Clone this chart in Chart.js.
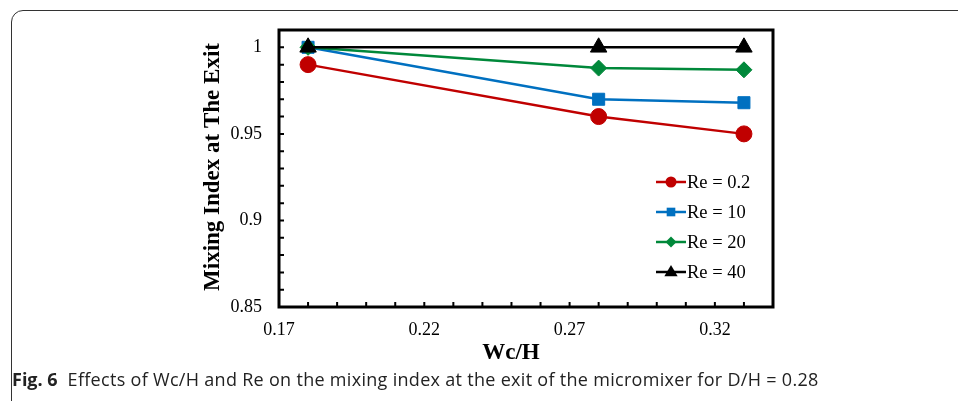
<!DOCTYPE html>
<html>
<head>
<meta charset="utf-8">
<script src="https://cdn.jsdelivr.net/npm/chart.js"></script>
<style>
  html, body { margin: 0; padding: 0; background: #fff; }
  body { width: 958px; height: 401px; overflow: hidden; position: relative; }
  .frame { position: absolute; left: 11px; top: 10px; width: 1000px; height: 440px;
           border: 1.3px solid #333; border-radius: 12px; box-sizing: border-box; }
  #wrap { position: absolute; left: 0; top: 0; width: 958px; height: 401px; }
  .cap { position: absolute; left: 12px; top: 367px; font-family: "Open Sans", sans-serif;
         font-size: 18px; letter-spacing: 0.3px; color: #222; white-space: nowrap; }
  .cap b { font-weight: 700; letter-spacing: 0; }
</style>
</head>
<body>
<div class="frame"></div>
<div id="wrap"><canvas id="mixChart" width="958" height="401"></canvas></div>
<div class="cap"><b>Fig. 6</b>&nbsp; Effects of Wc/H and Re on the mixing index at the exit of the micromixer for D/H = 0.28</div>
<script>
// data
const wcH = [0.18, 0.28, 0.33];
const re02 = [0.99, 0.96, 0.95];
const re10 = [1.0, 0.97, 0.968];
const re20 = [1.0, 0.988, 0.987];
const re40 = [1.0, 1.0, 1.0];
const seriesLabels = ['Re = 0.2', 'Re = 10', 'Re = 20', 'Re = 40'];
const xTickLabels = [0.17, 0.22, 0.27, 0.32];
const yTickLabels = [0.85, 0.9, 0.95, 1];

const serif = '"Liberation Serif", "Times New Roman", serif';

function pts(ys) {
  return wcH.map((x, i) => ({ x: x, y: ys[i] }));
}

function ds(label, ys, color, style, radius, order) {
  return {
    label: label,
    data: pts(ys),
    borderColor: color,
    backgroundColor: color,
    borderWidth: 2.5,
    pointStyle: style,
    pointRadius: radius,
    pointHoverRadius: radius,
    pointBorderWidth: 1,
    pointBorderColor: color,
    pointBackgroundColor: color,
    order: order,
    tension: 0
  };
}

// small marker drawer for the legend
function marker(c, style, x, y, r, color) {
  c.save();
  c.fillStyle = color;
  c.beginPath();
  if (style === 'circle') {
    c.arc(x, y, r, 0, Math.PI * 2);
  } else if (style === 'rect') {
    c.rect(x - r * 0.72, y - r * 0.72, r * 1.44, r * 1.44);
  } else if (style === 'rectRot') {
    c.moveTo(x, y - r); c.lineTo(x + r, y); c.lineTo(x, y + r); c.lineTo(x - r, y);
    c.closePath();
  } else if (style === 'triangle') {
    c.moveTo(x, y - r); c.lineTo(x + r * 0.95, y + r * 0.6); c.lineTo(x - r * 0.95, y + r * 0.6);
    c.closePath();
  }
  c.fill();
  c.restore();
}

const decor = {
  id: 'decor',
  afterDraw(chart) {
    const c = chart.ctx;
    const a = chart.chartArea;
    const xs = chart.scales.x, ys = chart.scales.y;
    c.save();
    // inward tick marks
    c.strokeStyle = '#000';
    c.lineWidth = 2;
    c.beginPath();
    for (let k = 86; k <= 101; k++) {
      const py = ys.getPixelForValue(k / 100);
      c.moveTo(a.left, py); c.lineTo(a.left + 5, py);
    }
    for (let k = 18; k <= 33; k++) {
      const px = xs.getPixelForValue(k / 100);
      c.moveTo(px, a.bottom); c.lineTo(px, a.bottom - 5);
    }
    c.stroke();
    // plot border
    c.lineWidth = 3;
    c.strokeRect(a.left, a.top, a.right - a.left, a.bottom - a.top);

    // axis titles
    c.fillStyle = '#000';
    c.font = 'bold 23px ' + serif;
    c.textAlign = 'center';
    c.textBaseline = 'middle';
    c.fillText('Wc/H', 511, 353);
    c.save();
    c.translate(213, 167);
    c.rotate(-Math.PI / 2);
    c.fillText('Mixing Index at The Exit', 0, 0);
    c.restore();

    // legend
    const sets = chart.data.datasets;
    c.font = '18.5px ' + serif;
    c.textAlign = 'left';
    sets.forEach((d, i) => {
      const ly = 182 + 30 * i;
      c.strokeStyle = d.borderColor;
      c.lineWidth = 2.5;
      c.beginPath();
      c.moveTo(656, ly); c.lineTo(686, ly);
      c.stroke();
      const lr = { circle: 5.5, rect: 6, rectRot: 5.5, triangle: 7 }[d.pointStyle];
      marker(c, d.pointStyle, 671, ly, lr, d.borderColor);
      c.fillStyle = '#000';
      c.fillText(d.label, 687, ly + 1);
    });
    c.restore();
  }
};

const ctx = document.getElementById('mixChart').getContext('2d');
const mixChart = new Chart(ctx, {
  type: 'line',
  data: {
    datasets: [
      ds(seriesLabels[0], re02, '#C00000', 'circle', 8, 4),
      ds(seriesLabels[1], re10, '#0070C0', 'rect', 8.5, 3),
      ds(seriesLabels[2], re20, '#00883A', 'rectRot', 8, 2),
      ds(seriesLabels[3], re40, '#000000', 'triangle', 9.5, 1)
    ]
  },
  options: {
    responsive: false,
    animation: false,
    layout: { padding: { left: 0, top: 30, right: 185, bottom: 0 } },
    plugins: { legend: { display: false }, tooltip: { enabled: false } },
    scales: {
      x: {
        type: 'linear',
        min: 0.17,
        max: 0.34,
        border: { display: false },
        grid: { display: false, drawTicks: false },
        afterFit(s) { s.height = 94; },
        ticks: {
          stepSize: 0.01,
          autoSkip: false,
          maxRotation: 0,
          padding: 12,
          color: '#000',
          font: { family: serif, size: 18 },
          callback: v => xTickLabels.some(l => Math.round(l * 100) === Math.round(v * 100)) ? v.toFixed(2) : ''
        }
      },
      y: {
        min: 0.85,
        max: 1.01,
        border: { display: false },
        grid: { display: false, drawTicks: false },
        afterFit(s) { s.width = 279; },
        ticks: {
          stepSize: 0.01,
          autoSkip: false,
          padding: 17,
          color: '#000',
          font: { family: serif, size: 18 },
          callback: v => yTickLabels.some(l => Math.round(l * 100) === Math.round(v * 100)) ? String(+v.toFixed(2)) : ''
        }
      }
    }
  },
  plugins: [decor]
});
</script>
</body>
</html>
